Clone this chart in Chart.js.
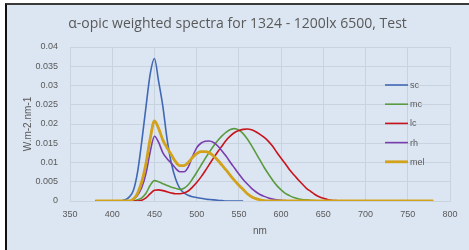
<!DOCTYPE html>
<html>
<head>
<meta charset="utf-8">
<script src="https://cdn.jsdelivr.net/npm/chart.js@4.4.1/dist/chart.umd.min.js"></script>
<style>
  body { margin: 0; background: #fff; width: 469px; height: 250px; overflow: hidden; }
  #frame {
    position: absolute; left: 5px; top: 3px; width: 464px; height: 247px;
    background: #DCE6F2; border-left: 2px solid #111; border-top: 2px solid #3a3a3a;
    box-sizing: border-box;
  }
  #chart { position: absolute; left: 0; top: 0; }
</style>
</head>
<body>
<div id="frame"></div>
<canvas id="chart" width="469" height="250"></canvas>
<script>
// wavelengths (nm)
const wavelengths = [
  380, 385, 390, 395, 400, 405, 410, 415, 420, 425,
  430, 435, 440, 445, 450, 455, 460, 465, 470, 475,
  480, 485, 490, 495, 500, 505, 510, 515, 520, 525,
  530, 535, 540, 545, 550, 555, 560, 565, 570, 575,
  580, 585, 590, 595, 600, 605, 610, 615, 620, 625,
  630, 635, 640, 645, 650, 655, 660, 665, 670, 675,
  680, 685, 690, 695, 700, 705, 710, 715, 720, 725,
  730, 735, 740, 745, 750, 755, 760, 765, 770, 775,
  780
];

// alpha-opic weighted spectra, W.m-2.nm-1
const sc = [
  0, 0, 0, 0, 0, 0, 0, 0.0003, 0.001, 0.0027,
  0.0075, 0.0155, 0.0245, 0.033, 0.037, 0.031, 0.0245, 0.016, 0.0098, 0.0058,
  0.0033, 0.0021, 0.0015, 0.0011, 0.0009, 0.0007, 0.0005, 0.0004, 0.0003, 0.0002,
  0.0001, 0, 0, 0, 0, 0
];
const mc = [
  0, 0, 0, 0, 0, 0, 0, 0, 0, 0,
  0.0003, 0.0008, 0.002, 0.0041, 0.0053, 0.005, 0.0045, 0.004, 0.0036, 0.0033,
  0.003, 0.0033, 0.0042, 0.0057, 0.0074, 0.0092, 0.011, 0.0127, 0.0143, 0.0157,
  0.0169, 0.0179, 0.0186, 0.0188, 0.0184, 0.0175, 0.0161, 0.0144, 0.0125, 0.0106,
  0.0087, 0.007, 0.0054, 0.004, 0.0029, 0.002, 0.0014, 0.0009, 0.0006, 0.0004,
  0.0003, 0.0002, 0.0001, 0, 0, 0, 0, 0, 0, 0,
  0, 0, 0, 0, 0, 0, 0, 0, 0, 0,
  0, 0, 0, 0, 0, 0, 0, 0, 0, 0,
  0
];
const lc = [
  0, 0, 0, 0, 0, 0, 0, 0, 0, 0,
  0, 0.0002, 0.0008, 0.0019, 0.0028, 0.0029, 0.0027, 0.0024, 0.0021, 0.0019,
  0.0019, 0.0021, 0.0026, 0.0036, 0.0048, 0.0062, 0.0078, 0.0095, 0.0112, 0.0128,
  0.0143, 0.0158, 0.0169, 0.0178, 0.0183, 0.0186, 0.0187, 0.0185, 0.018, 0.0173,
  0.0165, 0.0155, 0.0142, 0.0126, 0.0111, 0.0097, 0.0081, 0.0068, 0.0056, 0.0044,
  0.0033, 0.0025, 0.0017, 0.0011, 0.0007, 0.0004, 0.0002, 0.0001, 0, 0,
  0, 0, 0, 0, 0, 0, 0, 0, 0, 0,
  0, 0, 0, 0, 0, 0, 0, 0, 0, 0,
  0
];
const rh = [
  0, 0, 0, 0, 0, 0, 0, 0, 0, 0.0004,
  0.0015, 0.0035, 0.0072, 0.0128, 0.0168, 0.0152, 0.0125, 0.011, 0.0098, 0.0085,
  0.0076, 0.0076, 0.0088, 0.0115, 0.0138, 0.015, 0.0155, 0.0156, 0.0152, 0.0143,
  0.013, 0.0116, 0.01, 0.0085, 0.007, 0.0056, 0.0044, 0.0033, 0.0024, 0.0017,
  0.0012, 0.0008, 0.0005, 0.0003, 0.0002, 0.0001, 0, 0, 0, 0,
  0, 0, 0, 0, 0, 0, 0, 0, 0, 0,
  0, 0, 0, 0, 0, 0, 0, 0, 0, 0,
  0, 0, 0, 0, 0, 0, 0, 0, 0, 0,
  0
];
const mel = [
  0, 0, 0, 0, 0, 0, 0, 0, 0, 0.0005,
  0.002, 0.005, 0.0098, 0.0162, 0.0208, 0.0188, 0.0158, 0.0138, 0.012, 0.0102,
  0.0092, 0.0092, 0.01, 0.0113, 0.0123, 0.0128, 0.0128, 0.0125, 0.0117, 0.0106,
  0.0093, 0.008, 0.0066, 0.0053, 0.0041, 0.003, 0.0019, 0.0011, 0.0006, 0.0003,
  0.0001, 0, 0, 0, 0, 0, 0, 0, 0, 0,
  0, 0, 0, 0, 0, 0, 0, 0, 0, 0,
  0, 0, 0, 0, 0, 0, 0, 0, 0, 0,
  0, 0, 0, 0, 0, 0, 0, 0, 0, 0,
  0
];

const seriesNames = ['sc', 'mc', 'lc', 'rh', 'mel'];
const seriesColors = ['#4068B4', '#5B9B3F', '#C8141C', '#7A3DAE', '#D2A21A'];
const textColor = '#595959';
const gridColor = '#C9D3DF';

const toPoints = (values) => values.map((v, i) => ({ x: wavelengths[i], y: v }));

// legend drawn inside the plot, like the Excel one
const sideLegend = {
    id: 'sideLegend',
    afterDraw(chart) {
        const ctx = chart.ctx;
        ctx.save();
        ctx.font = '9px "Liberation Sans"';
        ctx.textBaseline = 'middle';
        ctx.textAlign = 'left';
        chart.data.datasets.forEach((ds, i) => {
            const y = 85 + i * 19.2;
            ctx.strokeStyle = ds.borderColor;
            ctx.lineWidth = ds.borderWidth;
            ctx.beginPath();
            ctx.moveTo(385, y);
            ctx.lineTo(408, y);
            ctx.stroke();
            ctx.fillStyle = textColor;
            ctx.fillText(ds.label, 410, y + 0.5);
        });
        ctx.restore();
    }
};

const allSeries = [sc, mc, lc, rh, mel];

new Chart(document.getElementById('chart'), {
    type: 'line',
    data: {
        datasets: allSeries.map((values, i) => ({
            label: seriesNames[i],
            data: toPoints(values),
            borderColor: seriesColors[i],
            backgroundColor: seriesColors[i],
            borderWidth: i === 4 ? 2.8 : 1.6,
            pointRadius: 0,
            cubicInterpolationMode: 'monotone',
            order: 5 - i
        }))
    },
    options: {
        responsive: false,
        animation: false,
        layout: { padding: { left: 6, right: 0, top: 0, bottom: 0 } },
        plugins: {
            legend: { display: false },
            tooltip: { enabled: false },
            title: {
                display: true,
                text: 'α-opic weighted spectra for 1324 - 1200lx 6500, Test',
                color: textColor,
                font: { family: 'Open Sans', size: 14, weight: 'normal' },
                padding: { top: 16, bottom: 14.2 }
            }
        },
        scales: {
            x: {
                type: 'linear',
                min: 350,
                max: 800,
                ticks: {
                    stepSize: 50,
                    color: textColor,
                    font: { family: 'Liberation Sans', size: 9 },
                    padding: 8
                },
                grid: { color: gridColor, drawTicks: false },
                border: { color: gridColor },
                title: {
                    display: true,
                    text: 'nm',
                    color: textColor,
                    font: { family: 'Liberation Sans', size: 10 },
                    padding: { top: 0, bottom: 12.5 }
                },
                afterFit(scale) { scale.height = 49; }
            },
            y: {
                type: 'linear',
                min: 0,
                max: 0.04,
                ticks: {
                    stepSize: 0.005,
                    color: textColor,
                    font: { family: 'Liberation Sans', size: 9 },
                    padding: 12,
                    callback: (v) => String(Number(v.toFixed(4)))
                },
                grid: { color: gridColor, drawTicks: false },
                border: { color: gridColor },
                title: {
                    display: true,
                    text: 'W.m-2.nm-1',
                    color: textColor,
                    font: { family: 'Liberation Sans', size: 10 },
                    padding: { top: 16, bottom: 0 }
                },
                afterFit(scale) { scale.width = 64; }
            },
            // empty right-hand strip so the plot stops short of the frame edge
            yRight: {
                type: 'linear',
                position: 'right',
                display: true,
                grid: { display: false, drawTicks: false },
                border: { display: false },
                ticks: { display: false },
                afterFit(scale) { scale.width = 19; }
            }
        }
    },
    plugins: [sideLegend]
});
</script>
</body>
</html>
